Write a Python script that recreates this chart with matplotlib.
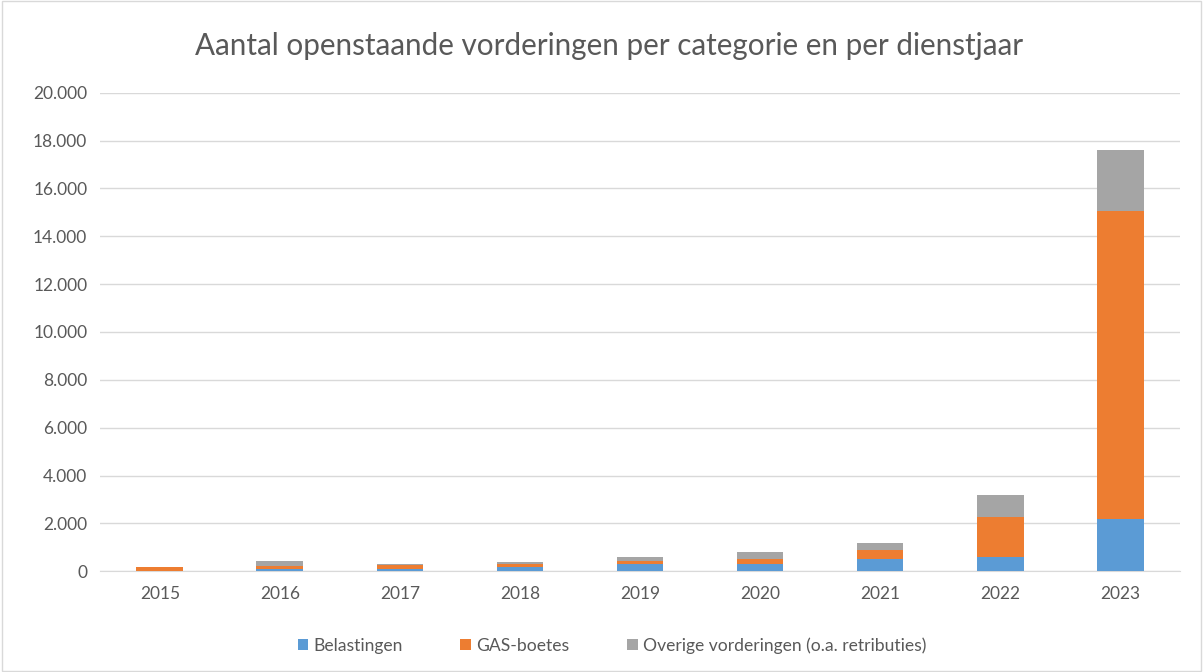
import numpy as np
import matplotlib
matplotlib.use("Agg")
import matplotlib.pyplot as plt
from matplotlib.ticker import FuncFormatter, MultipleLocator

jaren = ['2015', '2016', '2017', '2018', '2019', '2020', '2021', '2022', '2023']
belastingen = [10, 85, 85, 155, 305, 305, 515, 585, 2175]
gas_boetes = [160, 140, 155, 165, 140, 210, 360, 1660, 12890]
overige = [0, 210, 55, 55, 150, 290, 290, 950, 2540]

labels = ['Belastingen', 'GAS-boetes', 'Overige vorderingen (o.a. retributies)']
kleuren = ['#5b9bd5', '#ed7d31', '#a5a5a5']

plt.rcParams['font.family'] = ['Lato', 'DejaVu Sans']

fig = plt.figure(figsize=(12.03, 6.72), dpi=100)
ax = fig.add_axes([0.083, 0.150, 0.898, 0.712])

x = np.arange(len(jaren))
b = np.array(belastingen)
g = np.array(gas_boetes)
o = np.array(overige)
ax.bar(x, b, width=0.39, color=kleuren[0], label=labels[0], zorder=3)
ax.bar(x, g, width=0.39, bottom=b, color=kleuren[1], label=labels[1], zorder=3)
ax.bar(x, o, width=0.39, bottom=b + g, color=kleuren[2], label=labels[2], zorder=3)

ax.set_xlim(-0.5, len(jaren) - 0.5)
ax.set_ylim(0, 20000)
ax.yaxis.set_major_locator(MultipleLocator(2000))
ax.yaxis.set_major_formatter(FuncFormatter(lambda v, p: f'{int(v):,}'.replace(',', '.')))
ax.set_xticks(x)
ax.set_xticklabels(jaren)
ax.grid(axis='y', color='#d9d9d9', linewidth=1, zorder=0)
for s in ['top', 'right', 'left']:
    ax.spines[s].set_visible(False)
ax.spines['bottom'].set_color('#d9d9d9')
ax.tick_params(axis='x', length=0, labelsize=12.5, colors='#595959', pad=11)
ax.tick_params(axis='y', length=0, labelsize=12.5, colors='#595959', pad=9)

fig.text(0.506, 0.932, 'Aantal openstaande vorderingen per categorie en per dienstjaar',
         ha='center', va='center', fontsize=21.3, color='#595959')

ax.legend(loc='upper center', bbox_to_anchor=(0.474, -0.105), ncol=3, frameon=False,
          fontsize=12.6, labelcolor='#595959', handlelength=0.6, handleheight=0.6,
          columnspacing=3.3, handletextpad=0.3)

border = plt.Rectangle((0.002, 0.002), 0.996, 0.996, transform=fig.transFigure,
                       fill=False, edgecolor='#d9d9d9', linewidth=1)
fig.patches.append(border)

fig.savefig('out.png', dpi=100)
